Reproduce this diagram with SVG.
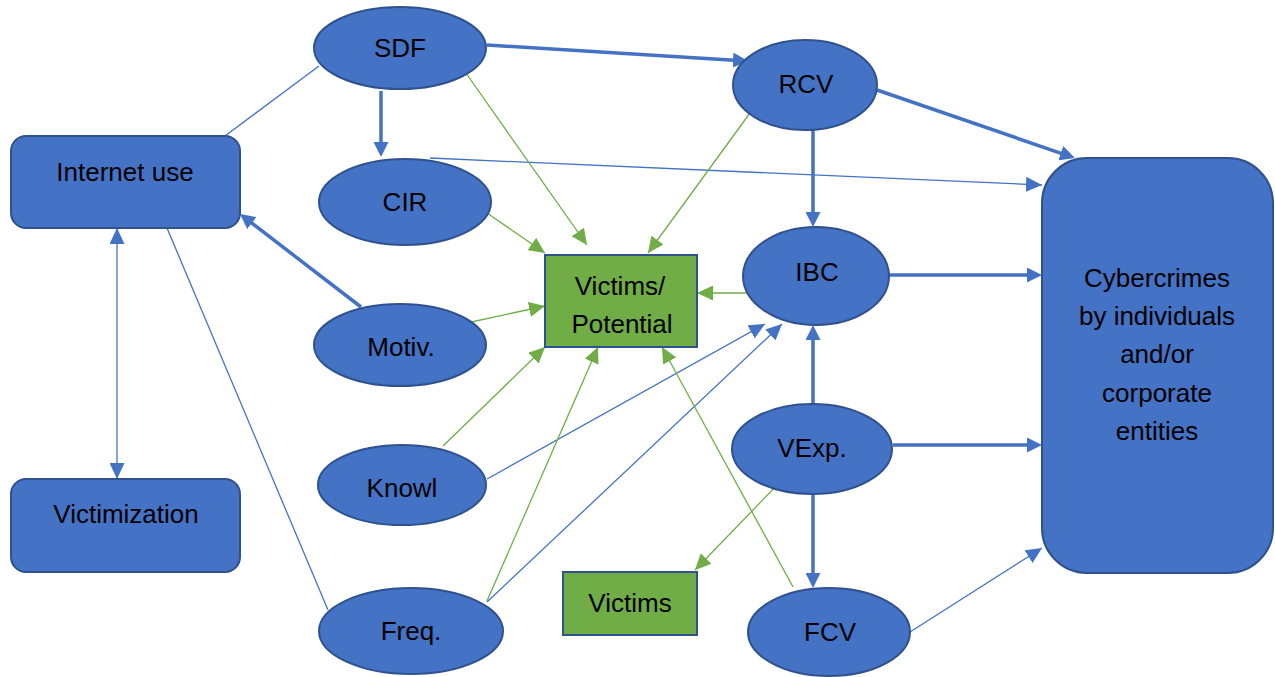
<svg xmlns="http://www.w3.org/2000/svg" width="1275" height="677" viewBox="0 0 1275 677">
  <style>
    .node { fill: #4472C4; stroke: #2F528F; stroke-width: 2; }
    .gnode { fill: #70AD47; stroke: #2F528F; stroke-width: 2; }
    .lbl { font-family: "Liberation Sans", Arial, sans-serif; font-size: 26px; fill: #000; text-anchor: middle; }
    .thick { stroke: #4472C4; stroke-width: 3.5; fill: none; marker-end: url(#headThick); }
    .thin { stroke: #4472C4; stroke-width: 1.3; fill: none; }
    .thinArrow { marker-end: url(#headBlue); }
    .green { stroke: #70AD47; stroke-width: 1.3; fill: none; marker-end: url(#headGreen); }
  </style>
  <defs>
    <marker id="headThick" markerUnits="userSpaceOnUse" markerWidth="15" markerHeight="15" refX="5" refY="7.5" orient="auto">
      <path d="M0,0 L15,7.5 L0,15 z" fill="#4472C4"/>
    </marker>
    <marker id="headBlue" markerUnits="userSpaceOnUse" markerWidth="16" markerHeight="15" refX="16" refY="7.5" orient="auto-start-reverse">
      <path d="M0,0 L16,7.5 L0,15 z" fill="#4472C4"/>
    </marker>
    <marker id="headGreen" markerUnits="userSpaceOnUse" markerWidth="16" markerHeight="15" refX="16" refY="7.5" orient="auto">
      <path d="M0,0 L16,7.5 L0,15 z" fill="#70AD47"/>
    </marker>
  </defs>

  <rect width="1275" height="677" fill="#ffffff"/>

  <g id="connectors">
    <!-- plain links -->
    <line class="thin" x1="319" y1="66" x2="225" y2="136"/>
    <line class="thin" x1="167" y1="228" x2="328" y2="610"/>
    <!-- two-way link -->
    <line class="thin" x1="117" y1="228" x2="117" y2="479" marker-start="url(#headBlue)" marker-end="url(#headBlue)"/>

    <!-- strong paths -->
    <line class="thick" x1="487" y1="45" x2="738" y2="60.4"/>
    <line class="thick" x1="381" y1="91" x2="381" y2="147"/>
    <line class="thick" x1="877" y1="90" x2="1065.5" y2="154.8"/>
    <line class="thick" x1="813" y1="130" x2="813" y2="217"/>
    <line class="thick" x1="889" y1="275" x2="1032" y2="275"/>
    <line class="thick" x1="893" y1="445" x2="1032" y2="445"/>
    <line class="thick" x1="813" y1="404" x2="813" y2="335"/>
    <line class="thick" x1="813" y1="493" x2="813" y2="578"/>
    <line class="thick" x1="361" y1="307" x2="247.9" y2="220.1"/>

    <!-- weaker paths -->
    <line class="thin thinArrow" x1="430" y1="158" x2="1042" y2="185"/>
    <line class="thin thinArrow" x1="487" y1="479" x2="765" y2="324"/>
    <line class="thin thinArrow" x1="487" y1="602" x2="782" y2="324"/>
    <line class="thin thinArrow" x1="910" y1="632" x2="1042" y2="548"/>

    <!-- paths to victims -->
    <line class="green" x1="461" y1="66" x2="587" y2="245"/>
    <line class="green" x1="750" y1="113" x2="648" y2="253"/>
    <line class="green" x1="487" y1="213" x2="545" y2="253"/>
    <line class="green" x1="748" y1="293" x2="697" y2="293"/>
    <line class="green" x1="462" y1="324" x2="545" y2="306"/>
    <line class="green" x1="443" y1="446" x2="545" y2="347"/>
    <line class="green" x1="487" y1="601" x2="598" y2="347"/>
    <line class="green" x1="793" y1="587" x2="662" y2="347"/>
    <line class="green" x1="782" y1="480" x2="695" y2="570"/>
  </g>

  <g id="internet-use">
    <rect class="node" x="11" y="136" width="229" height="92" rx="15"/>
    <text class="lbl" x="125" y="181">Internet use</text>
  </g>
  <g id="victimization">
    <rect class="node" x="11" y="479" width="229" height="93" rx="15"/>
    <text class="lbl" x="126" y="523">Victimization</text>
  </g>
  <g id="sdf">
    <ellipse class="node" cx="400" cy="48" rx="86" ry="41"/>
    <text class="lbl" x="400" y="57">SDF</text>
  </g>
  <g id="cir">
    <ellipse class="node" cx="405" cy="202" rx="86" ry="43"/>
    <text class="lbl" x="405" y="211">CIR</text>
  </g>
  <g id="motiv">
    <ellipse class="node" cx="400" cy="345" rx="86" ry="41"/>
    <text class="lbl" x="401" y="356">Motiv.</text>
  </g>
  <g id="knowl">
    <ellipse class="node" cx="402" cy="485" rx="84" ry="40"/>
    <text class="lbl" x="402" y="497">Knowl</text>
  </g>
  <g id="freq">
    <ellipse class="node" cx="411" cy="631" rx="92" ry="43"/>
    <text class="lbl" x="411" y="640">Freq.</text>
  </g>
  <g id="victims-potential">
    <rect class="gnode" x="545" y="255" width="152" height="92"/>
    <text class="lbl" x="620" y="295">Victims/</text>
    <text class="lbl" x="622" y="333">Potential</text>
  </g>
  <g id="victims">
    <rect class="gnode" x="563" y="572" width="134" height="63"/>
    <text class="lbl" x="630" y="612">Victims</text>
  </g>
  <g id="rcv">
    <ellipse class="node" cx="805" cy="85" rx="72" ry="45"/>
    <text class="lbl" x="806" y="93">RCV</text>
  </g>
  <g id="ibc">
    <ellipse class="node" cx="816" cy="276" rx="73" ry="49"/>
    <text class="lbl" x="817" y="281">IBC</text>
  </g>
  <g id="vexp">
    <ellipse class="node" cx="812" cy="449" rx="80" ry="45"/>
    <text class="lbl" x="812" y="457">VExp.</text>
  </g>
  <g id="fcv">
    <ellipse class="node" cx="829" cy="632" rx="81" ry="44"/>
    <text class="lbl" x="830" y="641">FCV</text>
  </g>
  <g id="cybercrimes">
    <rect class="node" x="1042" y="158" width="231" height="415" rx="45"/>
    <text class="lbl" x="1157" y="287">Cybercrimes</text>
    <text class="lbl" x="1157" y="325">by individuals</text>
    <text class="lbl" x="1157" y="363">and/or</text>
    <text class="lbl" x="1157" y="402">corporate</text>
    <text class="lbl" x="1157" y="440">entities</text>
  </g>
</svg>
